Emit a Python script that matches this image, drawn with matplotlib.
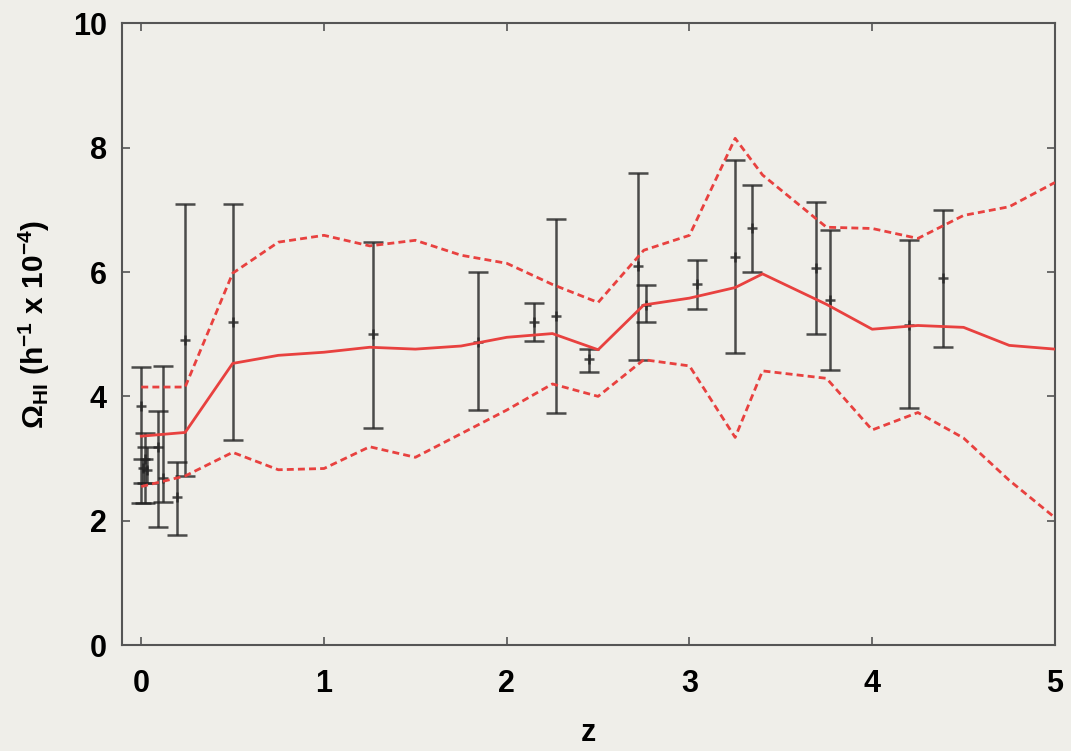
import numpy as np
import matplotlib
matplotlib.use("Agg")
import matplotlib.pyplot as plt

# model curve: median and upper/lower envelope
z_model = [0, 0.24, 0.5, 0.75, 1.0, 1.25, 1.5, 1.75, 2.0, 2.25, 2.5, 2.75,
           3.0, 3.25, 3.4, 3.75, 4.0, 4.25, 4.5, 4.75, 5.0]
omega_med = [3.36, 3.42, 4.53, 4.66, 4.71, 4.79, 4.76, 4.81, 4.95, 5.01, 4.75,
             5.47, 5.58, 5.75, 5.97, 5.48, 5.08, 5.14, 5.11, 4.82, 4.76]
omega_up = [4.15, 4.15, 5.98, 6.48, 6.59, 6.42, 6.51, 6.27, 6.14, 5.80, 5.51,
            6.35, 6.59, 8.15, 7.56, 6.72, 6.70, 6.54, 6.91, 7.05, 7.44]
omega_lo = [2.55, 2.72, 3.10, 2.82, 2.84, 3.19, 3.02, 3.40, 3.78, 4.20, 4.00,
            4.59, 4.49, 3.34, 4.41, 4.29, 3.46, 3.74, 3.33, 2.65, 2.05]

# observations with asymmetric error bars
z_obs = [0.0, 0.01, 0.02, 0.03, 0.093, 0.12, 0.197, 0.24, 0.503, 1.27, 1.84,
         2.15, 2.27, 2.45, 2.72, 2.76, 3.04, 3.25, 3.34, 3.69, 3.77, 4.2, 4.39]
obs = [3.85, 2.85, 3.0, 2.82, 3.18, 2.68, 2.38, 4.9, 5.2, 5.0, 4.88,
       5.19, 5.29, 4.6, 6.09, 5.47, 5.8, 6.24, 6.7, 6.06, 5.55, 5.14, 5.9]
obs_hi = [4.47, 3.0, 3.41, 3.18, 3.76, 4.49, 2.94, 7.1, 7.1, 6.48, 6.0,
          5.5, 6.86, 4.76, 7.6, 5.79, 6.19, 7.8, 7.4, 7.12, 6.67, 6.51, 7.0]
obs_lo = [2.28, 2.6, 2.28, 2.6, 1.9, 2.3, 1.77, 2.72, 3.3, 3.49, 3.78,
          4.89, 3.73, 4.39, 4.58, 5.19, 5.4, 4.69, 6.0, 5.01, 4.42, 3.82, 4.79]

bg = "#efeee9"
red = "#e8413f"
plt.rcParams["font.family"] = ["Liberation Sans", "DejaVu Sans"]
plt.rcParams["font.weight"] = "bold"
plt.rcParams["mathtext.fontset"] = "custom"
plt.rcParams["mathtext.rm"] = "Liberation Sans:bold"
plt.rcParams["mathtext.bf"] = "Liberation Sans:bold"
plt.rcParams["mathtext.it"] = "Liberation Sans:bold"

fig = plt.figure(figsize=(10.71, 7.51), dpi=100, facecolor=bg)
ax = fig.add_axes([0.114, 0.141, 0.871, 0.828], facecolor=bg)

obs_arr = np.array(obs)
yerr = [obs_arr - np.array(obs_lo), np.array(obs_hi) - obs_arr]
ax.errorbar(z_obs, obs, yerr=yerr, fmt="+", color="#222222", alpha=0.8,
            ms=7, mew=1.8, elinewidth=1.8, capsize=7, capthick=1.8, zorder=2)

ax.plot(z_model, omega_med, color=red, lw=2, zorder=3)
ax.plot(z_model, omega_up, color=red, lw=2, ls=(0, (2.5, 1.5)), zorder=3)
ax.plot(z_model, omega_lo, color=red, lw=2, ls=(0, (2.5, 1.5)), zorder=3)

ax.set_xlim(-0.105, 5)
ax.set_ylim(0, 10)
ax.set_xticks([0, 1, 2, 3, 4, 5])
ax.set_yticks([0, 2, 4, 6, 8, 10])
ax.tick_params(direction="in", length=6, width=1.2, color="#555555",
               top=True, right=True, labelsize=22)
ax.tick_params(axis="x", pad=17)
ax.tick_params(axis="y", pad=11)
for s in ax.spines.values():
    s.set_color("#555555")
    s.set_linewidth(1.5)

ax.set_xlabel("z", fontsize=22, fontweight="bold", labelpad=14)
ax.set_ylabel(r"$\Omega_{\mathrm{HI}}$ (h$^{-1}$ x 10$^{-4}$)",
              fontsize=21.5, fontweight="bold", labelpad=12)
ax.yaxis.set_label_coords(-0.075, 0.515)

fig.savefig("out.png", dpi=100, facecolor=bg)
